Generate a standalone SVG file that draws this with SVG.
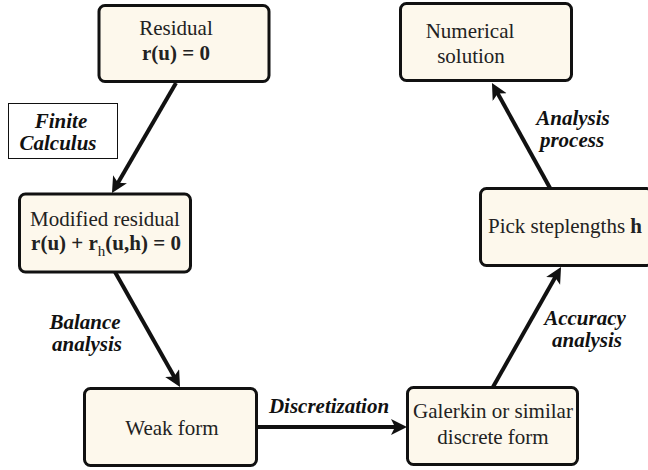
<svg xmlns="http://www.w3.org/2000/svg" width="648" height="470" viewBox="0 0 648 470" font-family="Liberation Serif, serif">
<style>
.node{fill:#fdf8ec;stroke:#111;stroke-width:3}
text{font-size:21px;fill:#222;text-anchor:middle}
.b{font-weight:bold}
.lbl{font-weight:bold;font-style:italic;fill:#111}
.conn{stroke:#111;stroke-width:4;fill:none}
</style>
<defs>
<marker id="ah" markerUnits="userSpaceOnUse" markerWidth="20" markerHeight="18" refX="6" refY="8" orient="auto">
<path d="M0,0 L16,8 L0,16 L4,8 Z" fill="#111"/>
</marker>
</defs>
<rect width="648" height="470" fill="#fff"/>
<g id="connectors">
<line class="conn" x1="176" y1="83" x2="117" y2="184.4" marker-end="url(#ah)"/>
<line class="conn" x1="115" y1="272" x2="175.1" y2="378.3" marker-end="url(#ah)"/>
<line class="conn" x1="257" y1="427" x2="397" y2="427" marker-end="url(#ah)"/>
<line class="conn" x1="493" y1="387" x2="556.1" y2="275.7" marker-end="url(#ah)"/>
<line class="conn" x1="550" y1="188" x2="496.8" y2="91.8" marker-end="url(#ah)"/>
</g>
<g id="labels">
<g id="label-finite">
<rect x="8.5" y="103.5" width="109" height="55" fill="#fff" stroke="#111" stroke-width="1"/>
<text class="lbl" x="61" y="128">Finite</text>
<text class="lbl" x="58" y="150">Calculus</text>
</g>
<g id="label-balance">
<text class="lbl" x="85" y="329">Balance</text>
<text class="lbl" x="87" y="351">analysis</text>
</g>
<text id="label-discretization" class="lbl" x="329" y="413">Discretization</text>
<g id="label-accuracy">
<text class="lbl" x="585" y="325">Accuracy</text>
<text class="lbl" x="587" y="347">analysis</text>
</g>
<g id="label-analysis">
<text class="lbl" x="573" y="125">Analysis</text>
<text class="lbl" x="572" y="147">process</text>
</g>
</g>
<g id="residual">
<rect class="node" x="99" y="5.5" width="170" height="76" rx="6"/>
<text x="176" y="35">Residual</text>
<text class="b" x="176" y="60">r(u) = 0</text>
</g>
<g id="modified-residual">
<rect class="node" x="19.5" y="194" width="171" height="78" rx="6"/>
<text x="105" y="226">Modified residual</text>
<text class="b" x="106" y="250">r(u) + r<tspan font-weight="normal" font-size="15" dy="6">h</tspan><tspan dy="-6">(u,h) = 0</tspan></text>
</g>
<g id="weak-form">
<rect class="node" x="84.5" y="388.5" width="172" height="77" rx="6"/>
<text x="172" y="435">Weak form</text>
</g>
<g id="galerkin">
<rect class="node" x="407.5" y="387.5" width="170" height="77" rx="6"/>
<text x="493" y="418">Galerkin or similar</text>
<text x="493" y="444">discrete form</text>
</g>
<g id="pick-steplengths">
<rect class="node" x="480.5" y="188.5" width="172" height="77" rx="6"/>
<text x="565" y="233">Pick steplengths <tspan font-weight="bold">h</tspan></text>
</g>
<g id="numerical-solution">
<rect class="node" x="400.5" y="3.5" width="171" height="77" rx="6"/>
<text x="470" y="38">Numerical</text>
<text x="471" y="63">solution</text>
</g>
</svg>
